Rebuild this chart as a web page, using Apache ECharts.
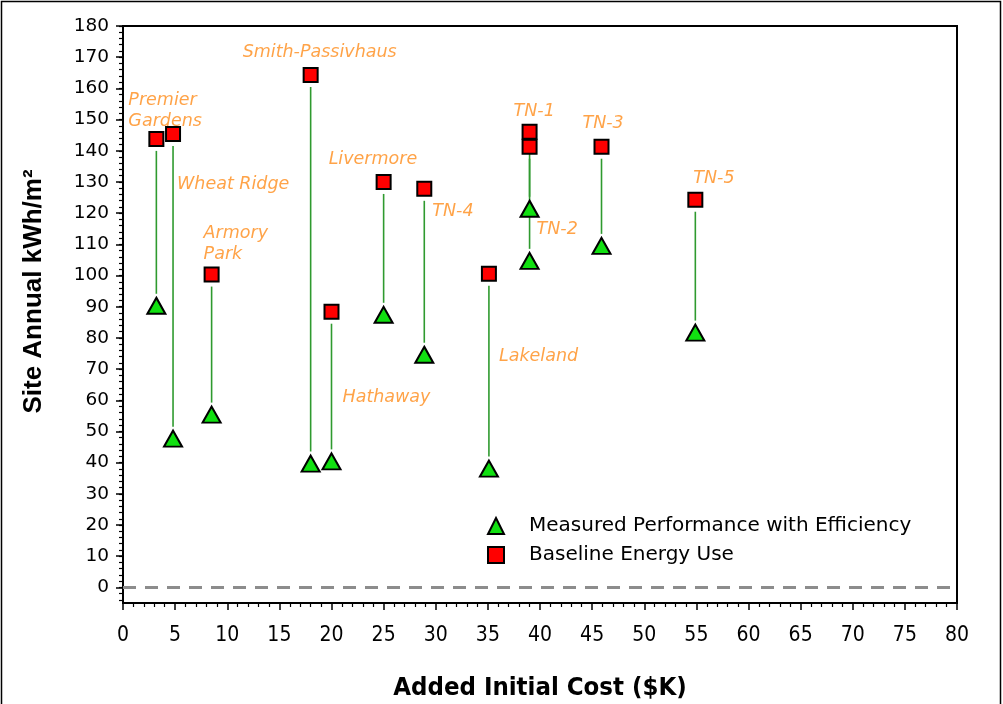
<!DOCTYPE html>
<html>
<head>
<meta charset="utf-8">
<script src="https://cdn.jsdelivr.net/npm/echarts@6/dist/echarts.min.js"></script>
<style>
html,body{margin:0;padding:0;background:#fff;}
#chart{width:1003px;height:704px;}
</style>
</head>
<body>
<div id="chart"></div>
<script>
// ---- data ----
var projects = ['Premier\nGardens','Wheat Ridge','Armory\nPark','Smith-Passivhaus','Hathaway','Livermore','TN-4','Lakeland','TN-1','TN-2','TN-3','TN-5'];
var addedCost = [3.2, 4.8, 8.5, 18.0, 20.0, 25.0, 28.9, 35.1, 39.0, 39.0, 45.9, 54.9];
var baselineUse = [143.8, 145.4, 100.3, 164.3, 88.4, 130.0, 127.8, 100.6, 146.1, 141.3, 141.3, 124.3];
var measuredUse = [90.3, 47.7, 55.4, 39.7, 40.4, 87.4, 74.6, 38.1, 121.4, 104.7, 109.5, 81.7];
var yTickLabels = [0,10,20,30,40,50,60,70,80,90,100,110,120,130,140,150,160,170,180];
var yMinorTicks = [-4,-2,0,2,4,6,8,10,12,14,16,18,20,22,24,26,28,30,32,34,36,38,40,42,44,46,48,50,52,54,56,58,60,62,64,66,68,70,72,74,76,78,80,82,84,86,88,90,92,94,96,98,100,102,104,106,108,110,112,114,116,118,120,122,124,126,128,130,132,134,136,138,140,142,144,146,148,150,152,154,156,158,160,162,164,166,168,170,172,174,176,178,180];
var seriesNames = ['Measured Performance with Efficiency','Baseline Energy Use'];
var xTitle = 'Added Initial Cost ($K)';
var yTitle = 'Site Annual kWh/m\u00B2';

// ---- styles (label offsets in pixels, relative to baseline marker) ----
var labelOffsets = [[-28,-28],[4,51],[-8,-31],[-68,-23],[11,86],[-55,-22],[8,23],[10,83],[-16,-20],[7,83],[-19,-23],[-2,-21]];

var chart = echarts.init(document.getElementById('chart'));

var pairData = addedCost.map(function(x,i){ return [x, baselineUse[i], measuredUse[i]]; });
var measData = addedCost.map(function(x,i){ return [x, measuredUse[i]]; });
var baseData = addedCost.map(function(x,i){ return [x, baselineUse[i]]; });
var labelData = addedCost.map(function(x,i){
  return {
    value:[x, baselineUse[i]],
    name: projects[i],
    label:{offset: labelOffsets[i]}
  };
});

var condensed = "'DejaVu Sans Condensed','Liberation Sans Narrow','Arial Narrow',sans-serif";

var option = {
  animation:false,
  backgroundColor:'#fff',
  grid:{left:123,right:46,top:26,bottom:101,show:true,borderColor:'#000',borderWidth:2,backgroundColor:'transparent',containLabel:false,outerBoundsMode:'none'},
  graphic:[{type:'rect',shape:{x:1.5,y:1.5,width:999,height:740},style:{fill:'none',stroke:'#000',lineWidth:1.5},silent:true,z:-1}],
  legend:{
    orient:'vertical',left:482,top:511,itemGap:9,itemWidth:16,itemHeight:16,
    data:seriesNames,
    textStyle:{fontFamily:'DejaVu Sans',fontSize:20,color:'#000',padding:[0,0,0,20]}
  },
  xAxis:{
    type:'value',min:0,max:80,interval:5,
    name:xTitle,nameLocation:'middle',nameGap:72,
    nameTextStyle:{fontFamily:condensed,fontWeight:'bold',fontSize:25.5,color:'#000'},
    axisLine:{show:true,onZero:false,lineStyle:{color:'#000',width:2}},
    axisTick:{show:true,length:7,lineStyle:{color:'#000',width:1.5}},
    minorTick:{show:true,splitNumber:5,length:4,lineStyle:{color:'#000',width:1.2}},
    axisLabel:{fontFamily:condensed,fontSize:21,color:'#000',margin:22},
    splitLine:{show:false}
  },
  yAxis:[{
    type:'value',min:-5,max:180,
    name:yTitle,nameLocation:'middle',nameGap:76,
    nameTextStyle:{fontFamily:'Liberation Sans',fontWeight:'bold',fontSize:26,color:'#000',padding:[0,0,0,46]},
    axisLine:{show:true,onZero:false,lineStyle:{color:'#000',width:2}},
    axisTick:{show:true,length:7,customValues:yTickLabels,lineStyle:{color:'#000',width:1.5}},
    axisLabel:{fontFamily:'DejaVu Sans',fontSize:18.5,color:'#000',margin:14,customValues:yTickLabels},
    splitLine:{show:false}
  },{
    type:'value',min:-5,max:180,position:'left',
    axisLine:{show:false},
    axisTick:{show:true,length:4,customValues:yMinorTicks,lineStyle:{color:'#000',width:1.2}},
    axisLabel:{show:false},
    splitLine:{show:false}
  }],
  series:[
    {
      type:'custom',
      name:'connectors',
      silent:true,
      z:1,
      data:pairData,
      renderItem:function(params, api){
        var top = api.coord([api.value(0), api.value(1)]);
        var bot = api.coord([api.value(0), api.value(2)]);
        return {
          type:'line',
          shape:{x1:top[0],y1:top[1]+12,x2:bot[0],y2:bot[1]-12},
          style:{stroke:'#2f9a2f',lineWidth:1.6}
        };
      },
      markLine:{
        silent:true,symbol:['none','none'],
        label:{show:false},
        lineStyle:{color:'#8c8c8c',width:3,type:[13,9]},
        data:[{yAxis:0}]
      }
    },
    {
      type:'scatter',
      name:seriesNames[0],
      z:3,
      symbol:'triangle',symbolSize:[18,16],
      itemStyle:{color:'#11e011',borderColor:'#000',borderWidth:2,opacity:1},
      data:measData
    },
    {
      type:'scatter',
      name:seriesNames[1],
      z:3,
      symbol:'rect',symbolSize:14,
      itemStyle:{color:'#ff0000',borderColor:'#000',borderWidth:2,opacity:1},
      data:baseData
    },
    {
      type:'scatter',
      name:'labels',
      z:4,
      symbolSize:0,
      silent:true,
      data:labelData,
      label:{
        show:true,position:'inside',align:'left',verticalAlign:'middle',
        formatter:'{b}',
        fontFamily:'DejaVu Sans',fontStyle:'italic',fontSize:17.5,lineHeight:21,color:'#ff8c1a'
      }
    }
  ]
};
chart.setOption(option);
</script>
</body>
</html>
